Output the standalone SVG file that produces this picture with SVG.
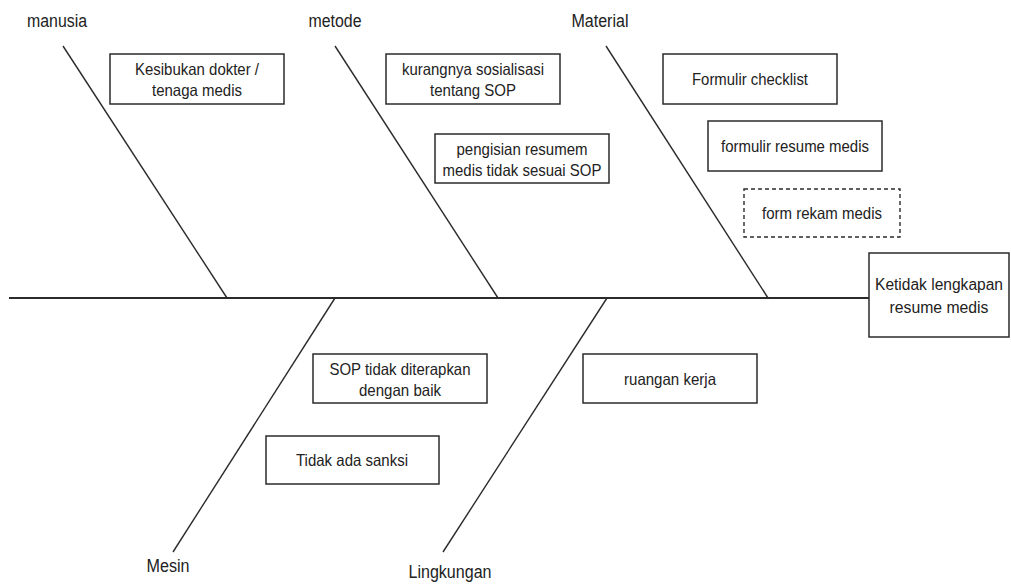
<svg xmlns="http://www.w3.org/2000/svg" width="1011" height="586" viewBox="0 0 1011 586">
<style>
.bone{stroke:#2b2b2b;stroke-width:1.4;fill:none}
.box{fill:#fff;stroke:#2b2b2b;stroke-width:1.5}
.dash{fill:#fff;stroke:#2b2b2b;stroke-width:1.4;stroke-dasharray:4 3}
text{font-family:"Liberation Sans",Arial,sans-serif;fill:#222;text-anchor:middle}
.lbl{font-size:17.5px}
.t{font-size:16.5px}
.big{font-size:16px}
</style>
<rect width="1011" height="586" fill="#fff"/>
<g id="connectors">
<line class="bone" x1="9" y1="298" x2="869" y2="298" style="stroke-width:1.8"/>
<line class="bone" x1="63" y1="46" x2="227" y2="298"/>
<line class="bone" x1="335" y1="46" x2="498" y2="298"/>
<line class="bone" x1="606" y1="46" x2="768" y2="298"/>
<line class="bone" x1="335" y1="298" x2="173" y2="552"/>
<line class="bone" x1="607" y1="298" x2="443" y2="552"/>
</g>
<g id="label-manusia"><text class="lbl" x="57" y="27" textLength="60" lengthAdjust="spacingAndGlyphs">manusia</text></g>
<g id="label-metode"><text class="lbl" x="335" y="27" textLength="53" lengthAdjust="spacingAndGlyphs">metode</text></g>
<g id="label-material"><text class="lbl" x="600" y="27" textLength="57" lengthAdjust="spacingAndGlyphs">Material</text></g>
<g id="label-mesin"><text class="lbl" x="168" y="572" textLength="43" lengthAdjust="spacingAndGlyphs">Mesin</text></g>
<g id="label-lingkungan"><text class="lbl" x="450" y="578" textLength="83" lengthAdjust="spacingAndGlyphs">Lingkungan</text></g>
<g id="effect">
<rect class="box" x="869" y="253" width="140" height="84"/>
<text class="big" x="939" y="290" textLength="128" lengthAdjust="spacingAndGlyphs">Ketidak lengkapan</text>
<text class="big" x="939" y="313" textLength="99" lengthAdjust="spacingAndGlyphs">resume medis</text>
</g>
<g id="kesibukan">
<rect class="box" x="110" y="54" width="174" height="50"/>
<text class="t" x="197" y="75" textLength="124" lengthAdjust="spacingAndGlyphs">Kesibukan dokter /</text>
<text class="t" x="197" y="96" textLength="90" lengthAdjust="spacingAndGlyphs">tenaga medis</text>
</g>
<g id="kurangnya">
<rect class="box" x="386" y="54" width="174" height="50"/>
<text class="t" x="473" y="75" textLength="142" lengthAdjust="spacingAndGlyphs">kurangnya sosialisasi</text>
<text class="t" x="473" y="96" textLength="86" lengthAdjust="spacingAndGlyphs">tentang SOP</text>
</g>
<g id="pengisian">
<rect class="box" x="435" y="134" width="174" height="49"/>
<text class="t" x="522" y="155" textLength="131" lengthAdjust="spacingAndGlyphs">pengisian resumem</text>
<text class="t" x="522" y="176" textLength="159" lengthAdjust="spacingAndGlyphs">medis tidak sesuai SOP</text>
</g>
<g id="formulir-checklist">
<rect class="box" x="663" y="54" width="174" height="50"/>
<text class="t" x="750" y="85" textLength="116" lengthAdjust="spacingAndGlyphs">Formulir checklist</text>
</g>
<g id="formulir-resume">
<rect class="box" x="708" y="121" width="174" height="50"/>
<text class="t" x="795" y="152" textLength="148" lengthAdjust="spacingAndGlyphs">formulir resume medis</text>
</g>
<g id="form-rekam">
<rect class="dash" x="744" y="189" width="156" height="48"/>
<text class="t" x="822" y="219" textLength="120" lengthAdjust="spacingAndGlyphs">form rekam medis</text>
</g>
<g id="sop-tidak">
<rect class="box" x="313" y="354" width="174" height="49"/>
<text class="t" x="400" y="375" textLength="141" lengthAdjust="spacingAndGlyphs">SOP tidak diterapkan</text>
<text class="t" x="400" y="396" textLength="82" lengthAdjust="spacingAndGlyphs">dengan baik</text>
</g>
<g id="tidak-sanksi">
<rect class="box" x="266" y="436" width="173" height="48"/>
<text class="t" x="352" y="466" textLength="112" lengthAdjust="spacingAndGlyphs">Tidak ada sanksi</text>
</g>
<g id="ruangan">
<rect class="box" x="583" y="354" width="174" height="49"/>
<text class="t" x="670" y="385" textLength="92" lengthAdjust="spacingAndGlyphs">ruangan kerja</text>
</g>
</svg>
